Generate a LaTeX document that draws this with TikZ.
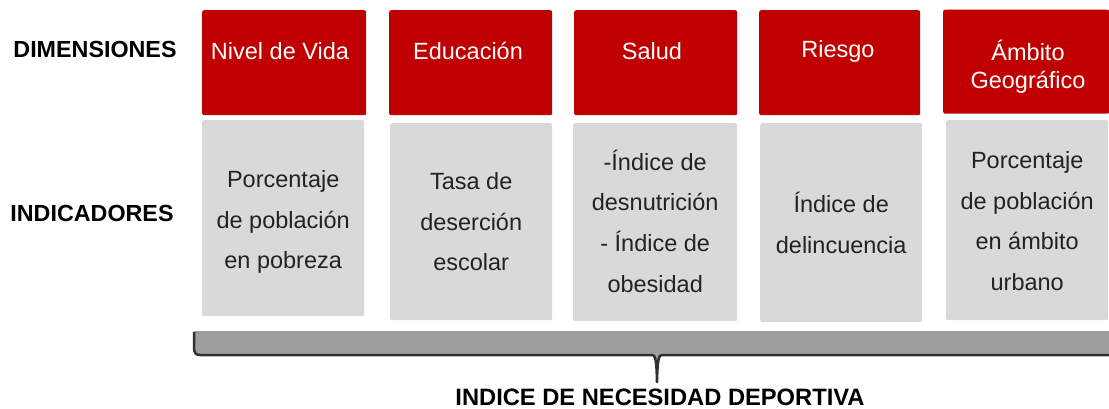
\documentclass[tikz,border=0pt]{standalone}
\usepackage{fontspec}
\setmainfont{Liberation Sans}
\definecolor{dimred}{HTML}{C00000}
\definecolor{indgray}{HTML}{D9D9D9}
\definecolor{bracegray}{HTML}{9E9E9E}
\definecolor{braceline}{HTML}{303030}
\definecolor{txt}{HTML}{222222}
\begin{document}
\begin{tikzpicture}[x=1pt,y=-1pt,
  dimbox/.style={fill=dimred, rounded corners=2pt, anchor=north west, inner sep=0pt},
  indbox/.style={fill=indgray, rounded corners=2pt, anchor=north west, inner sep=0pt},
  indtext/.style={align=center, text=txt, inner sep=0pt, font=\fontsize{23.5}{40.7}\selectfont},
  dimlabel/.style={text=white, align=center, inner sep=0pt, font=\fontsize{23.5}{28}\selectfont},
  rowlabel/.style={text=black, inner sep=0pt, anchor=base, font=\bfseries\fontsize{23.3}{27}\selectfont}]
\useasboundingbox (0,0) rectangle (1109,409);

% row labels
\node[rowlabel] (dim) at (95,58) {DIMENSIONES};
\node[rowlabel] (ind) at (92,221) {INDICADORES};

% dimension boxes
\node[dimbox, minimum width=164pt, minimum height=105pt] (r1) at (202,10) {};
\node[dimbox, minimum width=163pt, minimum height=105pt] (r2) at (389,10) {};
\node[dimbox, minimum width=163pt, minimum height=105pt] (r3) at (574,10) {};
\node[dimbox, minimum width=161pt, minimum height=105pt] (r4) at (759,10) {};
\node[dimbox, minimum width=166pt, minimum height=104pt] (r5) at (943,9.5) {};

\node[dimlabel, anchor=base] (t1) at (280,60) {Nivel de Vida};
\node[dimlabel, anchor=base] (t2) at (468,60) {Educación};
\node[dimlabel, anchor=base] (t3) at (652,60) {Salud};
\node[dimlabel, anchor=base] (t4) at (838,58) {Riesgo};
\node[dimlabel, anchor=north] (t5) at (1028,40) {Ámbito\\[0pt]Geográfico};

% indicator boxes
\node[indbox, minimum width=162pt, minimum height=196pt] (g1) at (202,120) {};
\node[indbox, minimum width=162pt, minimum height=197pt] (g2) at (390,123) {};
\node[indbox, minimum width=164pt, minimum height=198pt] (g3) at (573,123) {};
\node[indbox, minimum width=162pt, minimum height=199pt] (g4) at (760,123) {};
\node[indbox, minimum width=162pt, minimum height=200pt] (g5) at (946,120) {};

\node[indtext] (i1) at ([yshift=-4pt]g1.center) {Porcentaje\\de población\\en pobreza};
\node[indtext] (i2) at ([yshift=0pt]g2.center) {Tasa de\\deserción\\escolar};
\node[indtext] (i3) at ([yshift=1pt]g3.center) {-Índice de\\desnutrición\\- Índice de\\obesidad};
\node[indtext] (i4) at ([yshift=0pt]g4.center) {Índice de\\delincuencia};
\node[indtext] (i5) at ([yshift=-1pt]g5.center) {Porcentaje\\de población\\en ámbito\\urbano};

% brace
\fill[bracegray] (194,331) -- (1109,331) -- (1109,355) -- (662,355)
  .. controls (659,355) and (657.5,358) .. (657,382)
  .. controls (656.5,358) and (655,355) .. (652,355)
  -- (200,355) .. controls (196,355) and (194,353) .. (194,348) -- cycle;
\draw[braceline, line width=2.5pt, line join=round]
  (194,332) -- (194,348) .. controls (194,353) and (196,355) .. (200,355)
  -- (652,355) .. controls (655,355) and (656.5,358) .. (657,382)
  .. controls (657.5,358) and (659,355) .. (662,355) -- (1109,355);

\node[rowlabel, font=\bfseries\fontsize{23.7}{28}\selectfont] (idx) at (660,405) {INDICE DE NECESIDAD DEPORTIVA};
\end{tikzpicture}
\end{document}
